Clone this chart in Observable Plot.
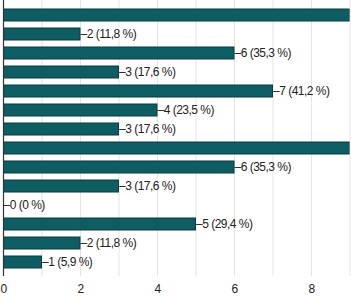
<!DOCTYPE html>
<html><head><meta charset="utf-8">
<script src="https://cdn.jsdelivr.net/npm/d3@7"></script>
<script src="https://cdn.jsdelivr.net/npm/@observablehq/plot@0.6"></script>
<style>
html,body{margin:0;padding:0;background:#fff;}
</style>
</head><body>
<div id="chart"></div>
<script>
const rows = [0,1,2,3,4,5,6,7,8,9,10,11,12,13];
const counts = [9,2,6,3,7,4,3,9,6,3,0,5,2,1];
const percents = ["52,9","11,8","35,3","17,6","41,2","23,5","17,6","52,9","35,3","17,6","0","29,4","11,8","5,9"];
const xTicks = [0,2,4,6,8];
const gridTicks = [1,2,3,4,5,6,7,8,9];
const xMax = 9;

const data = rows.map((r,i)=>({row:r, count:counts[i], label:"\u2013" + counts[i] + " (" + percents[i] + " %)"}));
// labels of bars that reach the right edge lie outside the picture in the reference
const labelData = data.filter(d => d.count < xMax);

const font = "'Liberation Sans', Arial, sans-serif";
const chart = Plot.plot({
  width: 351, height: 299,
  marginLeft: 3, marginRight: 1.5, marginTop: 0, marginBottom: 23,
  style: {fontFamily: font, fontSize: "12px", background: "#fff", color: "#222", letterSpacing: "-0.5px"},
  x: {domain: [0, xMax], ticks: xTicks, tickSize: 0, tickPadding: 8, label: null, tickFormat: d=>d},
  y: {domain: rows, axis: null, paddingInner: 0.39, paddingOuter: 0.235},
  marks: [
    Plot.ruleX(gridTicks, {stroke: "#e4e4e4", strokeWidth: 1}),
    Plot.ruleY([0], {frameAnchor:"bottom", stroke: "#dcdcdc"}),
    Plot.barX(data, {x: "count", y: "row", fill: "#0d5d62", stroke: "#083c40", strokeWidth: 1, clip: true}),
    Plot.text(labelData, {x: "count", y: "row", text: "label", textAnchor: "start", dx: 0, fill: "#222", fontSize: 12}),
    Plot.ruleX([0], {stroke: "#333", strokeWidth: 1.2}),
    Plot.axisX({ticks: xTicks, tickSize: 0, tickPadding: 8, fontSize: 12, fill: "#222", label: null})
  ]
});
document.getElementById("chart").appendChild(chart);
</script>
</body></html>
